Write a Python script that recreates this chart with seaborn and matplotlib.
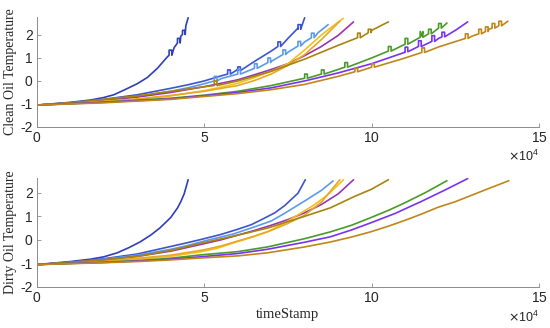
import numpy as np
import pandas as pd
import seaborn as sns
import matplotlib.pyplot as plt

# =============================
# DATA (x in units of 1e4)
# =============================

colors = ["#2f3fb8", "#3d55cc", "#5c9ae6", "#9a35b0", "#f2c01c",
          "#e8a825", "#a8840e", "#4a9a28", "#7a32f0", "#c0861a"]

# clean oil: base points per curve
clean_x = [
    [0, 1, 1.6, 2, 2.3, 2.6, 3, 3.3, 3.6, 3.9, 4.1, 4.3, 4.45, 4.52],
    [0, 1, 2, 3, 4, 4.5, 5, 5.5, 6, 6.5, 7, 7.5, 7.8, 8.0],
    [0, 1, 2, 3, 4, 4.5, 5, 5.5, 6, 6.5, 7, 7.5, 8, 8.4, 8.7],
    [0, 1, 2, 3, 4, 5, 6, 6.5, 7, 7.5, 8, 8.5, 9, 9.46],
    [0, 1, 2, 3, 4, 5, 5.5, 6, 6.5, 7, 7.5, 8, 8.5, 8.9, 9.15],
    [0, 1, 2, 3, 4, 5, 6, 6.5, 7, 7.5, 8, 8.5, 9.05],
    [0, 1, 2, 3, 4, 5, 6, 7, 8, 9, 10, 10.5],
    [0, 2, 4, 5, 6, 7, 8, 9, 10, 11, 11.5, 12, 12.25],
    [0, 2, 4, 6, 7, 8, 9, 10, 11, 12, 12.5, 12.87],
    [0, 2, 4, 6, 7, 8, 9, 10, 11, 12, 13, 13.5, 14.07],
]
clean_y = [
    [-1.05, -0.93, -0.83, -0.72, -0.6, -0.4, -0.12, 0.15, 0.55, 1.05, 1.45, 1.95, 2.4, 2.75],
    [-1.05, -0.95, -0.8, -0.6, -0.32, -0.17, 0.0, 0.22, 0.5, 0.85, 1.3, 1.85, 2.3, 2.75],
    [-1.05, -0.97, -0.85, -0.68, -0.45, -0.3, -0.12, 0.1, 0.3, 0.55, 0.85, 1.25, 1.7, 2.1, 2.45],
    [-1.05, -0.96, -0.85, -0.7, -0.5, -0.25, 0.05, 0.27, 0.5, 0.75, 1.1, 1.5, 1.98, 2.57],
    [-1.05, -0.98, -0.9, -0.8, -0.65, -0.42, -0.27, -0.1, 0.15, 0.42, 0.75, 1.35, 2.0, 2.45, 2.72],
    [-1.05, -0.97, -0.88, -0.78, -0.63, -0.45, -0.2, 0.02, 0.3, 0.68, 1.15, 1.8, 2.6],
    [-1.05, -0.95, -0.8, -0.65, -0.45, -0.25, 0.0, 0.42, 0.95, 1.55, 2.2, 2.57],
    [-1.05, -0.92, -0.75, -0.62, -0.45, -0.2, 0.12, 0.5, 1.0, 1.6, 1.95, 2.3, 2.52],
    [-1.05, -0.93, -0.78, -0.5, -0.3, 0.0, 0.35, 0.75, 1.25, 1.85, 2.2, 2.57],
    [-1.05, -0.95, -0.8, -0.55, -0.38, -0.15, 0.2, 0.6, 1.0, 1.48, 1.95, 2.25, 2.6],
]
# pulses on clean curves: (x, base y, height)
clean_pulses = [
    [(3.95, 1.12, 0.22), (4.2, 1.65, 0.2), (4.35, 2.02, 0.18)],
    [(5.7, 0.3, 0.18), (6.0, 0.45, 0.16), (7.2, 1.5, 0.2), (7.8, 2.25, 0.2)],
    [(5.3, 0.0, 0.2), (6.0, 0.3, 0.2), (6.5, 0.55, 0.2), (6.9, 0.8, 0.2),
     (7.35, 1.15, 0.2), (7.8, 1.52, 0.2), (8.2, 1.88, 0.2)],
    [],
    [],
    [],
    [(5.3, -0.2, 0.2), (9.58, 1.88, 0.2), (9.9, 2.1, 0.15)],
    [(8.0, 0.12, 0.18), (8.5, 0.3, 0.18), (9.2, 0.6, 0.2), (10.5, 1.3, 0.2),
     (11.0, 1.6, 0.25), (11.45, 1.9, 0.25), (11.7, 2.05, 0.2), (12.0, 2.3, 0.2)],
    [(11.0, 1.27, 0.2), (11.4, 1.5, 0.25), (11.8, 1.72, 0.25), (12.1, 1.92, 0.2)],
    [(9.5, 0.4, 0.15), (10.0, 0.6, 0.15), (11.5, 1.24, 0.2), (12.8, 1.85, 0.2),
     (13.2, 2.05, 0.2), (13.4, 2.15, 0.2), (13.6, 2.3, 0.2), (13.8, 2.4, 0.2)],
]

# dirty oil: smooth curves
dirty_x = [
    [0, 1, 1.6, 2, 2.4, 2.75, 3.08, 3.4, 3.68, 4.0, 4.2, 4.3, 4.4, 4.52],
    [0, 1, 2, 3, 4, 4.5, 5, 5.5, 6, 6.4, 6.7, 7.1, 7.4, 7.8, 8.02],
    [0, 1, 2, 3, 4, 4.5, 5, 5.87, 6.5, 7.0, 7.37, 8, 8.5, 8.85],
    [0, 1, 2, 3, 4, 4.88, 5.5, 6, 6.5, 7, 7.5, 8, 8.5, 9, 9.46],
    [0, 1, 2, 3, 4, 4.88, 5.4, 5.87, 6.4, 6.89, 7.4, 7.87, 8.3, 8.68, 9.16],
    [0, 1, 2, 3, 4, 5, 5.5, 6, 6.5, 7, 7.5, 8, 8.5, 9.05],
    [0, 1, 2, 3, 4, 4.88, 6, 6.89, 8, 8.77, 9.5, 10, 10.5],
    [0, 1, 2, 3, 4, 4.88, 6, 6.89, 8, 8.77, 9.4, 9.97, 10.5, 10.96, 11.6, 12.25],
    [0, 1, 2, 3, 4, 4.88, 6, 6.89, 8, 8.77, 9.4, 9.97, 10.7, 11.47, 12.2, 12.87],
    [0, 1, 2, 3, 4, 4.88, 6, 6.89, 8, 8.77, 9.4, 9.97, 10.5, 11, 11.5, 11.98, 12.5, 13, 13.5, 14.1],
]
dirty_y = [
    [-1.05, -0.92, -0.82, -0.72, -0.55, -0.33, -0.09, 0.2, 0.51, 0.95, 1.35, 1.62, 1.95, 2.55],
    [-1.05, -0.95, -0.8, -0.6, -0.28, -0.12, 0.05, 0.23, 0.45, 0.64, 0.85, 1.14, 1.45, 1.98, 2.55],
    [-1.05, -0.96, -0.82, -0.65, -0.4, -0.24, -0.05, 0.25, 0.55, 0.8, 1.1, 1.65, 2.1, 2.5],
    [-1.05, -0.96, -0.85, -0.7, -0.48, -0.2, 0.0, 0.2, 0.4, 0.62, 0.86, 1.15, 1.5, 1.95, 2.55],
    [-1.05, -0.99, -0.92, -0.82, -0.7, -0.51, -0.35, -0.13, 0.1, 0.34, 0.72, 1.12, 1.5, 1.9, 2.55],
    [-1.05, -0.98, -0.9, -0.78, -0.65, -0.42, -0.26, -0.05, 0.16, 0.4, 0.7, 1.05, 1.6, 2.55],
    [-1.05, -0.95, -0.85, -0.7, -0.45, -0.15, 0.2, 0.5, 1.0, 1.36, 1.85, 2.15, 2.55],
    [-1.05, -1.0, -0.95, -0.88, -0.78, -0.64, -0.5, -0.3, 0.05, 0.34, 0.62, 0.94, 1.25, 1.55, 2.0, 2.51],
    [-1.05, -1.0, -0.96, -0.9, -0.82, -0.72, -0.58, -0.4, -0.1, 0.13, 0.42, 0.72, 1.12, 1.62, 2.12, 2.6],
    [-1.05, -1.01, -0.97, -0.92, -0.85, -0.77, -0.68, -0.55, -0.3, -0.09, 0.12, 0.34, 0.58, 0.83, 1.1, 1.38, 1.62, 1.9, 2.18, 2.51],
]

xticks = [0, 5, 10, 15]
yticks = [-2, -1, 0, 1, 2]


def with_pulses(xs, ys, pulses, w=0.08):
    pts = list(zip(xs, ys))
    for px, py, h in pulses:
        pts += [(px, py), (px + 0.001, py + h), (px + w, py + h), (px + w + 0.001, py)]
    pts.sort(key=lambda p: p[0])
    return [p[0] * 1e4 for p in pts], [p[1] for p in pts]


# =============================
# PLOT
# =============================

sns.set_theme(style="ticks")
plt.rcParams["font.family"] = ["Liberation Sans", "DejaVu Sans"]
plt.rcParams["axes.unicode_minus"] = False

fig = plt.figure(figsize=(5.5, 3.28), dpi=100)
ax1 = fig.add_axes([0.067, 0.613, 0.913, 0.335])
ax2 = fig.add_axes([0.067, 0.125, 0.913, 0.332])

for i in range(len(clean_x)):
    x, y = with_pulses(clean_x[i], clean_y[i], clean_pulses[i])
    sns.lineplot(x=x, y=y, ax=ax1, color=colors[i], lw=1.2,
                 sort=False, estimator=None)

for i in range(len(dirty_x)):
    x = [v * 1e4 for v in dirty_x[i]]
    sns.lineplot(x=x, y=dirty_y[i], ax=ax2, color=colors[i], lw=1.2,
                 sort=False, estimator=None)

for ax, top in [(ax1, 2.78), (ax2, 2.62)]:
    ax.set_xlim(0, 15e4)
    ax.set_ylim(-2, top)
    ax.set_xticks([t * 1e4 for t in xticks])
    ax.set_yticks(yticks)
    ax.ticklabel_format(axis="x", style="sci", scilimits=(4, 4), useMathText=True)
    ax.tick_params(direction="in", length=3, width=0.6, color="#8c8c8c",
                   labelsize=10, labelcolor="#262626", pad=3)
    ax.xaxis.get_offset_text().set_fontsize(9)
    ax.xaxis.get_offset_text().set_color("#262626")
    for s in ["top", "right"]:
        ax.spines[s].set_visible(False)
    for s in ["left", "bottom"]:
        ax.spines[s].set_color("#8c8c8c")
        ax.spines[s].set_linewidth(0.7)

ax1.set_ylabel("Clean Oil Temperature", family="Liberation Serif", fontsize=10, labelpad=2)
ax2.set_ylabel("Dirty Oil Temperature", family="Liberation Serif", fontsize=10, labelpad=2)
ax2.set_xlabel("timeStamp", family="Liberation Serif", fontsize=10.5, labelpad=2)
ax1.set_xlabel("")

fig.savefig("out.png", dpi=100)
